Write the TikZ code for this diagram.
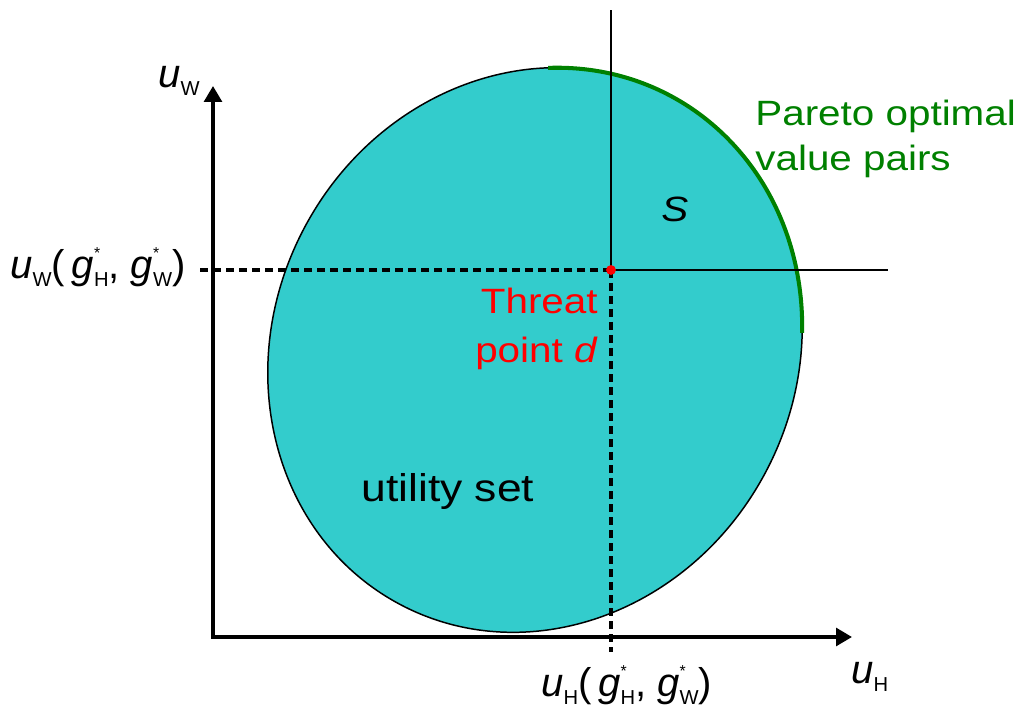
\documentclass[tikz,border=0pt]{standalone}
\usepackage{fontspec}
\setmainfont{Liberation Sans}[FakeStretch=1.15]
\newfontfamily\labfont{Liberation Sans}
\usetikzlibrary{arrows.meta}
\definecolor{utilteal}{RGB}{51,204,204}
\definecolor{paretoGN}{RGB}{0,128,0}
\definecolor{threatRD}{RGB}{255,0,0}
\newcommand{\subsz}{\fontsize{11.5}{12}\selectfont}
\newcommand{\starsz}{\fontsize{9}{9}\selectfont}
\newcommand{\uvar}[1]{\textit{u}\raisebox{-0.19em}{\subsz #1}}
\newcommand{\gvar}[1]{\textit{g}\rlap{\raisebox{0.5em}{\starsz *}}\raisebox{-0.19em}{\subsz #1}}

\begin{document}
\begin{tikzpicture}[x=0.02cm,y=0.02cm,
    axis/.style={line width=2pt,{Triangle[length=9pt,width=10pt]}-{Triangle[length=9pt,width=10pt]}},
    guide/.style={line width=1.9pt,dash pattern=on 4.8pt off 2.6pt},
    frameline/.style={line width=0.85pt},
    txt/.style={inner sep=0pt,font=\fontsize{20}{28}\selectfont},
    mlab/.style={inner sep=0pt,font=\labfont\fontsize{22.8}{28}\selectfont}]
  \useasboundingbox (0,0) rectangle (1031,709);
  \coordinate (O) at (213,72);
  \coordinate (ytip) at (213,623);
  \coordinate (xtip) at (852,72);
  \coordinate (c) at (535,359);
  \coordinate (d) at (611,439);
  \coordinate (dtop) at (611,699);
  \coordinate (dright) at (888,439);
  \coordinate (dleft) at (197,439);
  \coordinate (dlow) at (611,57);

  % utility set and its Pareto boundary
  \begin{scope}[shift={(c)},rotate=62]
    \filldraw[fill=utilteal,draw=black,line width=0.85pt] (0,0) ellipse [x radius=288,y radius=261];
    \draw[paretoGN,line width=2.3pt] (27.6:288 and 261) arc[start angle=27.6,end angle=-60.8,x radius=288,y radius=261];
  \end{scope}

  \draw[frameline] (d) -- (dtop);
  \draw[frameline] (d) -- (dright);
  \draw[guide] (d) -- (dleft);
  \draw[guide] (d) -- (dlow);
  \draw[axis] (ytip) -- (O) -- (xtip);
  \fill[threatRD] (d) circle (2.8pt);

  \node[txt,text=threatRD,align=right,anchor=north east] (threat) at (598,421) {Threat\\point \textit{d}};
  \node[txt,text=paretoGN,align=left,anchor=north west,font=\fontsize{20}{25.5}\selectfont] (pareto) at (755,609) {Pareto optimal\\value pairs};
  \node[txt,anchor=base west,font=\fontsize{22}{28}\selectfont] (uset) at (361,207) {utility set};
  \node[txt,anchor=base west] (S) at (661,487) {\textit{S}};
  \node[mlab,anchor=base west] (uWax) at (158,621) {\uvar{W}};
  \node[mlab,anchor=base east] (uWd) at (186,430) {\uvar{W}(\,\gvar{H}, \gvar{W})};
  \node[mlab,anchor=base west] (uHd) at (541,12) {\uvar{H}(\,\gvar{H}, \gvar{W})};
  \node[mlab,anchor=base west] (uHax) at (851,25) {\uvar{H}};
\end{tikzpicture}
\end{document}
